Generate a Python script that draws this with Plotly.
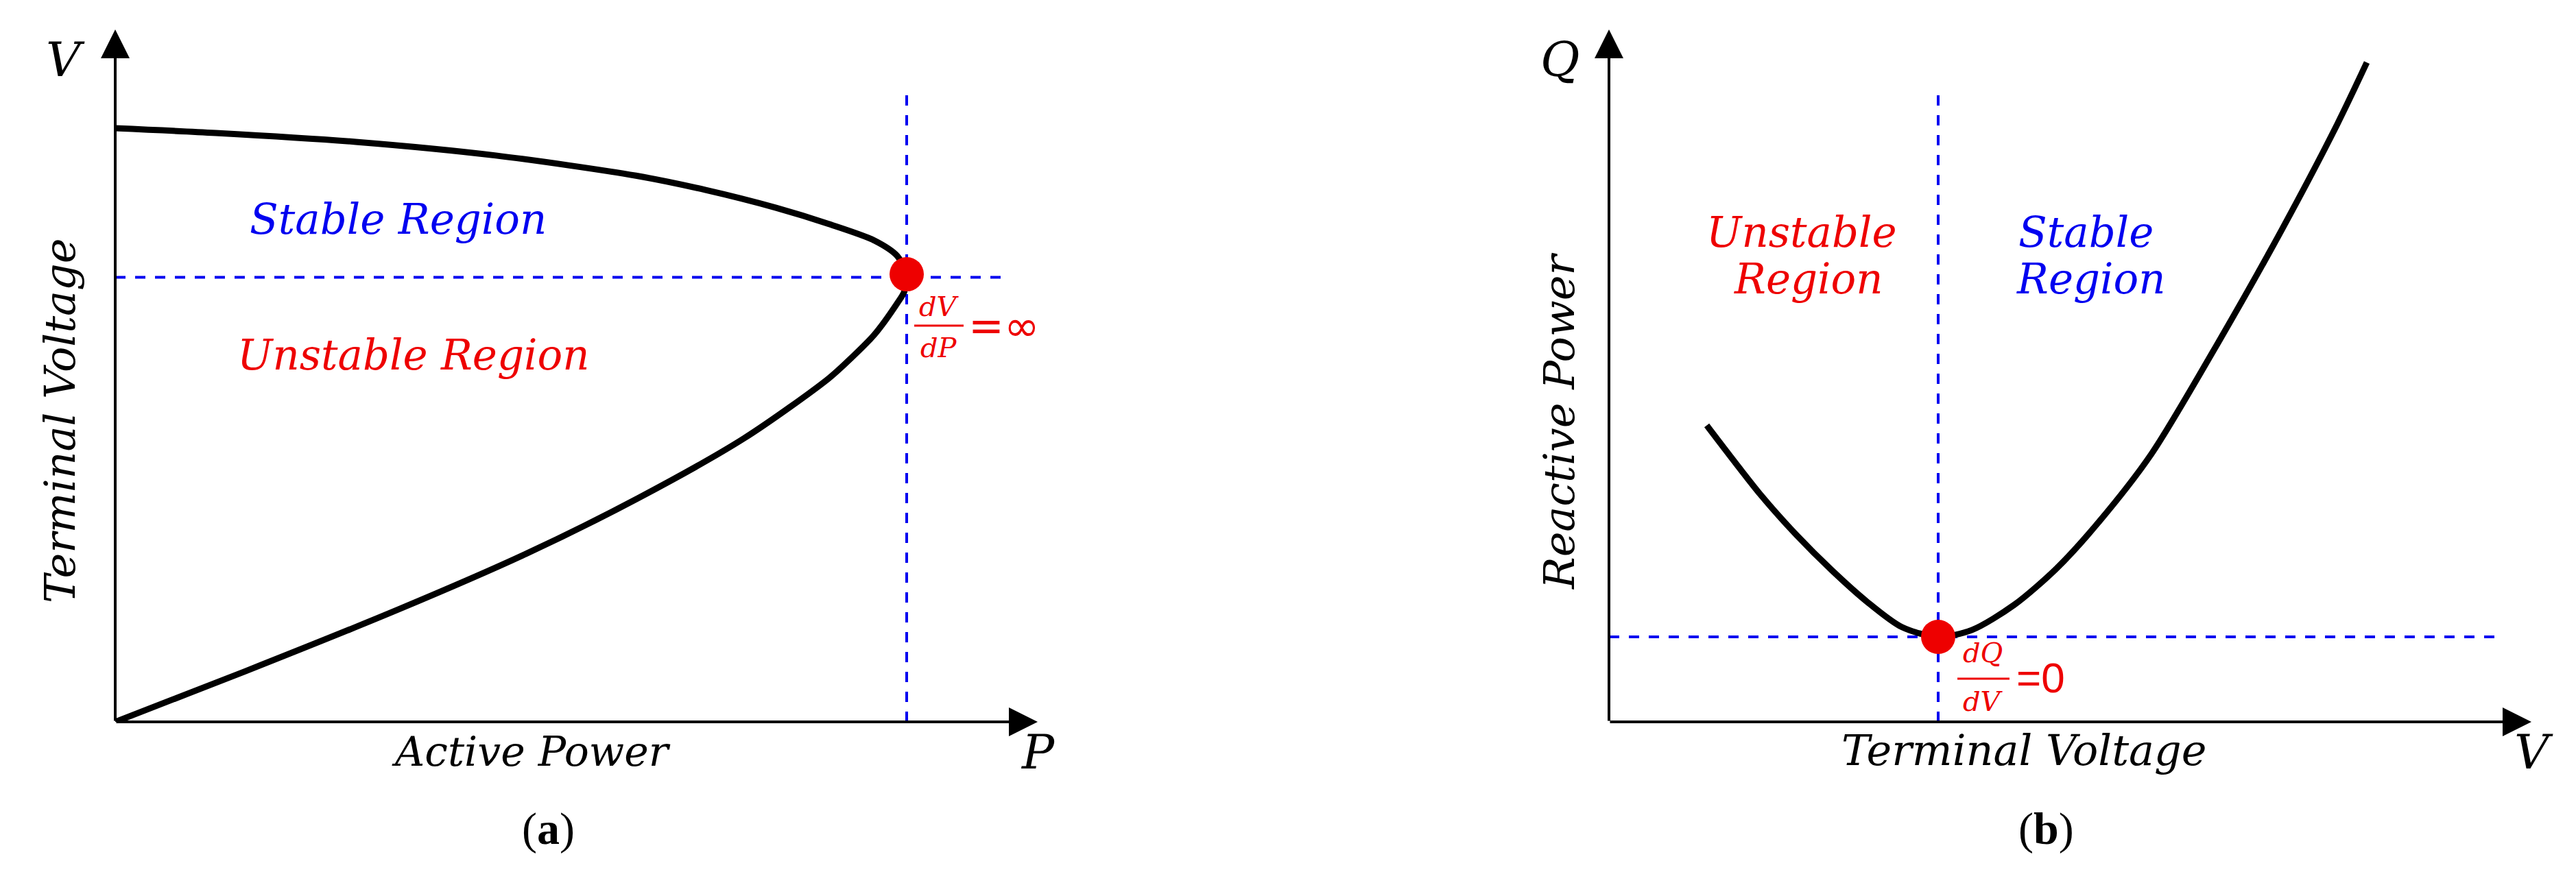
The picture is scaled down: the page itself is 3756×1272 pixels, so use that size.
import plotly.graph_objects as go

W, H = 3756, 1272

# (a) P-V nose curve: upper branch then lower branch (P normalised to the nose)
P_UPPER = [0.0, 0.127, 0.304, 0.481, 0.658, 0.746, 0.835, 0.901, 0.959, 0.988, 1.0]
V_UPPER = [1.0, 0.992, 0.977, 0.954, 0.920, 0.896, 0.866, 0.839, 0.811, 0.785, 0.754]
P_LOWER = [0.997, 0.988, 0.959, 0.930, 0.901, 0.795, 0.661, 0.519, 0.359, 0.164, 0.0]
V_LOWER = [0.725, 0.705, 0.652, 0.613, 0.578, 0.478, 0.377, 0.283, 0.190, 0.085, 0.0]
P_NOSE, V_NOSE = 1.0, 0.754
V_LIMIT_LINE = 0.749

# (b) Q-V curve (V normalised to the minimum point)
QV_V = [0.297, 0.464, 0.570, 0.677, 0.783, 0.890, 1.0, 1.103, 1.231, 1.359, 1.487, 1.647, 1.850, 2.041, 2.212, 2.302]
QV_Q = [0.532, 0.405, 0.335, 0.272, 0.216, 0.170, 0.1525, 0.165, 0.210, 0.275, 0.358, 0.480, 0.680, 0.880, 1.072, 1.183]
V_MIN, Q_MIN = 1.0, 0.1525

A_XMAX, A_YMAX = 1.1655, 1.1663
B_XMAX, B_YMAX = 2.802, 1.2423

BLACK = "#000000"
BLUE = "#0000F0"
RED = "#EE0000"
SERIF = "DejaVu Serif"


def fx(x):
    return x / W


def fy(y):
    return 1 - y / H


fig = go.Figure()

dashed = dict(color=BLUE, width=4, dash="15px,14px")
curve = dict(color=BLACK, width=9, shape="spline", smoothing=0.8)

# panel (a)
fig.add_trace(go.Scatter(x=[0, 1.1205], y=[V_LIMIT_LINE, V_LIMIT_LINE], mode="lines",
                         line=dashed, xaxis="x", yaxis="y"))
fig.add_trace(go.Scatter(x=[P_NOSE, P_NOSE], y=[0, 1.0566], mode="lines",
                         line=dashed, xaxis="x", yaxis="y"))
fig.add_trace(go.Scatter(x=P_UPPER + P_LOWER, y=V_UPPER + V_LOWER, mode="lines",
                         line=curve, xaxis="x", yaxis="y"))
fig.add_trace(go.Scatter(x=[P_NOSE], y=[V_NOSE], mode="markers",
                         marker=dict(color=RED, size=50), xaxis="x", yaxis="y"))

# panel (b)
fig.add_trace(go.Scatter(x=[0, 2.698], y=[Q_MIN, Q_MIN], mode="lines",
                         line=dashed, xaxis="x2", yaxis="y2"))
fig.add_trace(go.Scatter(x=[V_MIN, V_MIN], y=[0, 1.125], mode="lines",
                         line=dashed, xaxis="x2", yaxis="y2"))
fig.add_trace(go.Scatter(x=QV_V, y=QV_Q, mode="lines",
                         line=curve, xaxis="x2", yaxis="y2"))
fig.add_trace(go.Scatter(x=[V_MIN], y=[Q_MIN], mode="markers",
                         marker=dict(color=RED, size=50), xaxis="x2", yaxis="y2"))

hidden = dict(showgrid=False, zeroline=False, showticklabels=False, showline=False,
              ticks="", fixedrange=True)

y_dom = [fy(1045), fy(35)]
fig.update_layout(
    width=W, height=H,
    margin=dict(l=0, r=0, t=0, b=0),
    paper_bgcolor="white", plot_bgcolor="white",
    showlegend=False,
    xaxis=dict(domain=[fx(160), fx(1505)], range=[0, A_XMAX], **hidden),
    yaxis=dict(domain=y_dom, range=[0, A_YMAX], **hidden),
    xaxis2=dict(domain=[fx(2338), fx(3683)], range=[0, B_XMAX], anchor="y2", **hidden),
    yaxis2=dict(domain=y_dom, range=[0, B_YMAX], anchor="x2", **hidden),
)

# axis arrows
arrow = dict(text="", showarrow=True, arrowhead=2, arrowsize=2.1, arrowwidth=4,
             arrowcolor=BLACK, standoff=0)
for xr, yr, xm, ym in [("x", "y", A_XMAX, A_YMAX), ("x2", "y2", B_XMAX, B_YMAX)]:
    fig.add_annotation(x=xm, y=0, ax=0, ay=0, xref=xr, yref=yr, axref=xr, ayref=yr, **arrow)
    fig.add_annotation(x=0, y=ym, ax=0, ay=0, xref=xr, yref=yr, axref=xr, ayref=yr, **arrow)


def label(text, x, y, size, color=BLACK, family=SERIF, italic=True, angle=0):
    fig.add_annotation(
        text=text,
        x=fx(x), y=fy(y), xref="paper", yref="paper",
        xanchor="center", yanchor="middle", showarrow=False, textangle=angle,
        font=dict(family=family, size=size, color=color,
                  style="italic" if italic else "normal"),
    )


# panel (a) texts
label("V", 87, 79, 70)
label("P", 1505, 1089, 70)
label("Active Power", 766, 1088, 60)
label("Terminal Voltage", 80, 606, 62, angle=-90)
label("Stable Region", 572, 312, 61, color=BLUE)
label("Unstable Region", 595, 509, 61, color=RED)
label("dV", 1361, 439, 40, color=RED)
label("dP", 1361, 499, 40, color=RED)
label("=∞", 1456, 467, 62, color=RED, family="DejaVu Sans", italic=False)
label("(<b>a</b>)", 791, 1201, 66, family="Liberation Serif", italic=False)

# panel (b) texts
label("Q", 2266, 79, 70)
label("V", 3686, 1089, 70)
label("Terminal Voltage", 2943, 1086, 62)
label("Reactive Power", 2266, 606, 62, angle=-90)
label("Unstable", 2619, 330, 61, color=RED)
label("Region", 2629, 398, 61, color=RED)
label("Stable", 3033, 330, 61, color=BLUE)
label("Region", 3041, 398, 61, color=BLUE)
label("dQ", 2883, 944, 40, color=RED)
label("dV", 2883, 1015, 40, color=RED)
label("=0", 2967, 980, 62, color=RED, family="Liberation Sans", italic=False)
label("(<b>b</b>)", 2975, 1201, 66, family="Liberation Serif", italic=False)

# fraction bars
for x0, x1, y in [(1325, 1397, 467), (2846, 2922, 982)]:
    fig.add_shape(type="line", xref="paper", yref="paper",
                  x0=fx(x0), x1=fx(x1), y0=fy(y), y1=fy(y),
                  line=dict(color=RED, width=3))

fig.write_html("out.html")
